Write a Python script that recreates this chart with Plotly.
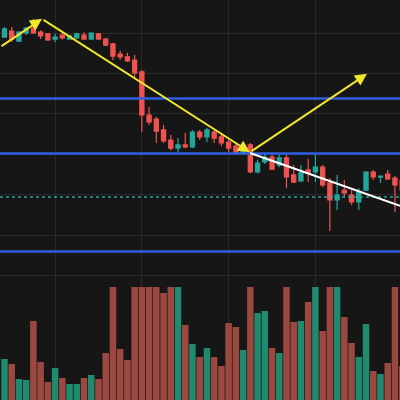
import plotly.graph_objects as go

# ---- data ----
idx = list(range(56))
opens = [29.90, 30.05, 29.80, 30.00, 30.12, 30.02, 29.98, 29.85, 29.95, 29.85,
         29.88, 29.95, 29.85, 29.98, 29.85, 29.73, 29.48, 29.41, 29.33, 29.04,
         27.97, 27.87, 27.60, 27.35, 27.15, 27.23, 27.18, 27.55, 27.43, 27.55,
         27.43, 27.30, 27.20, 27.03, 27.23, 26.56, 26.81, 26.93, 26.73, 26.91,
         26.49, 26.34, 26.61, 26.56, 26.68, 26.29, 25.87, 26.11, 25.99, 25.82,
         26.11, 26.56, 26.43, 26.51, 26.41, 26.36]
highs = [30.15, 30.15, 30.05, 30.15, 30.35, 30.07, 30.00, 29.98, 30.00, 29.95,
         30.00, 30.02, 30.02, 30.00, 29.88, 29.75, 29.56, 29.51, 29.46, 29.08,
         28.17, 27.92, 27.72, 27.48, 27.40, 27.53, 27.60, 27.60, 27.65, 27.60,
         27.50, 27.35, 27.25, 27.28, 27.28, 26.86, 27.03, 27.00, 27.03, 27.00,
         26.73, 26.73, 26.88, 26.98, 26.73, 26.41, 26.49, 26.36, 26.11, 26.16,
         26.58, 26.61, 26.47, 26.61, 26.46, 26.41]
lows = [29.88, 29.78, 29.78, 29.95, 29.98, 29.85, 29.80, 29.78, 29.83, 29.83,
        29.85, 29.83, 29.83, 29.83, 29.68, 29.33, 29.33, 29.28, 28.91, 27.55,
        27.72, 27.28, 27.28, 27.10, 27.05, 27.15, 27.15, 27.35, 27.30, 27.28,
        27.20, 27.05, 26.98, 26.98, 26.53, 26.53, 26.76, 26.61, 26.68, 26.16,
        26.29, 26.31, 26.31, 26.31, 26.19, 25.10, 25.62, 25.92, 25.74, 25.62,
        26.09, 26.36, 26.29, 26.36, 25.57, 25.99]
closes = [30.10, 29.85, 30.02, 30.12, 30.00, 29.93, 29.83, 29.90, 29.88, 29.93,
          29.98, 29.85, 30.00, 29.85, 29.70, 29.43, 29.41, 29.31, 29.01, 27.97,
          27.80, 27.57, 27.33, 27.15, 27.23, 27.18, 27.55, 27.43, 27.60, 27.40,
          27.28, 27.15, 27.03, 27.18, 26.56, 26.78, 26.93, 26.63, 26.91, 26.44,
          26.31, 26.54, 26.54, 26.68, 26.24, 25.87, 25.99, 26.04, 25.82, 26.06,
          26.56, 26.44, 26.46, 26.39, 26.24, 26.11]
volumes = [410, 360, 210, 200, 790, 380, 180, 320, 220, 160,
           160, 220, 250, 210, 470, 1480, 510, 400, 1350, 2900,
           1700, 1550, 1070, 1250, 1200, 750, 560, 430, 520, 430,
           340, 770, 730, 500, 1600, 870, 890, 520, 470, 1250,
           780, 790, 980, 1180, 690, 1900, 1300, 830, 570, 430,
           760, 290, 260, 370, 1400, 340]

# drawings (data coordinates)
levels = [28.38, 27.02, 24.59]
last_line = 25.94
arrow_tail_x = [-0.62, 5.19, 33.96]
arrow_tail_y = [29.65, 30.35, 27.05]
arrow_head_x = [5.19, 33.96, 50.14]
arrow_head_y = [30.35, 27.05, 28.99]
trend_x = [33.96, 54.70]
trend_y = [27.03, 25.72]

UP = "#26a69a"
DOWN = "#ef5350"
VUP = "#1f8a6e"
VDOWN = "#9a4840"
BG = "#161616"
GRID = "#2a2a2a"

vol_colors = [VUP if c >= o else VDOWN for o, c in zip(opens, closes)]

fig = go.Figure()
fig.add_trace(go.Bar(x=idx, y=volumes, marker=dict(color=vol_colors, line=dict(width=0)),
                     yaxis="y2", showlegend=False, hoverinfo="skip"))
fig.add_trace(go.Candlestick(
    x=idx, open=opens, high=highs, low=lows, close=closes,
    increasing=dict(line=dict(color=UP, width=1.2), fillcolor=UP),
    decreasing=dict(line=dict(color=DOWN, width=1.2), fillcolor=DOWN),
    whiskerwidth=0, showlegend=False, yaxis="y"))

shapes = []
for lv in levels:
    shapes.append(dict(type="line", xref="paper", x0=0, x1=1, yref="y", y0=lv, y1=lv,
                       line=dict(color="#2f5fe0", width=2.5)))
shapes.append(dict(type="line", xref="paper", x0=0, x1=1, yref="y", y0=last_line, y1=last_line,
                   line=dict(color=UP, width=1.5, dash="dot")))
shapes.append(dict(type="line", xref="x", yref="y", x0=trend_x[0], x1=trend_x[1],
                   y0=trend_y[0], y1=trend_y[1], line=dict(color="white", width=2)))

annotations = []
for tx, ty, hx, hy in zip(arrow_tail_x, arrow_tail_y, arrow_head_x, arrow_head_y):
    annotations.append(dict(x=hx, y=hy, ax=tx, ay=ty, xref="x", yref="y", axref="x", ayref="y",
                            text="", showarrow=True, arrowhead=2, arrowsize=1.2,
                            arrowwidth=2, arrowcolor="#f0e62c", standoff=0, startstandoff=0))

fig.update_layout(
    width=400, height=400, margin=dict(l=0, r=0, t=0, b=0),
    paper_bgcolor=BG, plot_bgcolor=BG, showlegend=False,
    boxgap=0.18, bargap=0.1,
    xaxis=dict(range=[-0.62, 54.70], showticklabels=False, showgrid=True, gridcolor=GRID,
               gridwidth=1, tick0=7, dtick=12, zeroline=False, rangeslider=dict(visible=False),
               showline=False, ticks=""),
    yaxis=dict(domain=[0, 1], range=[20.916, 30.817], showticklabels=False, showgrid=True,
               gridcolor=GRID, gridwidth=1, tick0=0, dtick=1, zeroline=False, ticks=""),
    yaxis2=dict(domain=[0, 0.2825], range=[0, 1130], showticklabels=False, showgrid=False,
                zeroline=False, anchor="x", ticks=""),
    shapes=shapes, annotations=annotations,
)

fig.write_html("out.html", config={"displayModeBar": False},
               post_script="document.body.style.margin='0';document.body.style.padding='0';"
                           "document.body.style.background='" + BG + "';")
